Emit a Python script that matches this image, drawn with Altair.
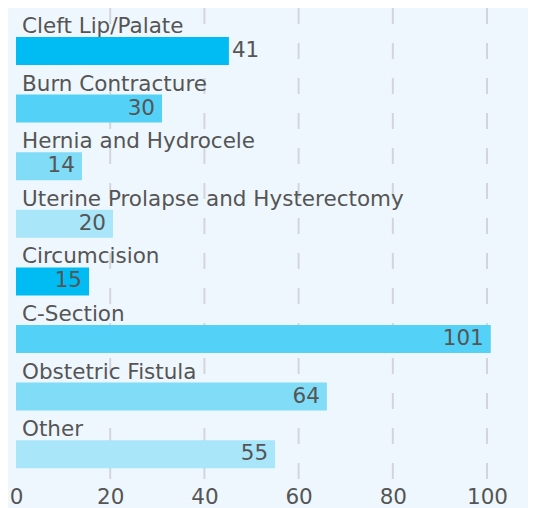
import altair as alt
import pandas as pd

categories = ["Cleft Lip/Palate", "Burn Contracture", "Hernia and Hydrocele",
              "Uterine Prolapse and Hysterectomy", "Circumcision", "C-Section",
              "Obstetric Fistula", "Other"]
bar_values = [45.2, 31.0, 14.0, 20.6, 15.5, 100.8, 66.0, 55.0]
labels = ["41", "30", "14", "20", "15", "101", "64", "55"]
label_inside = [False, True, True, True, True, True, True, True]
colors = ["#00bcf2", "#54d1f6", "#80dcf7", "#a9e6f9",
          "#00bcf2", "#54d1f6", "#80dcf7", "#a9e6f9"]
grid_values = [20, 40, 60, 80, 100]
tick_values = [0, 20, 40, 60, 80, 100]

df = pd.DataFrame({"cat": categories, "value": bar_values,
                   "label": labels, "inside": label_inside})
grid_df = pd.DataFrame({"g": grid_values})

FONT = "DejaVu Sans"
FS = 21.5
TXT = "#555555"
W, H = 512, 461

xscale = alt.Scale(domain=[0, 108.7], nice=False, zero=True)
yscale = alt.Scale(domain=categories, range=[29, 460.2], paddingInner=0.514, paddingOuter=0)
xaxis = alt.Axis(values=tick_values, grid=False, domain=False, ticks=False,
                 labelFont=FONT, labelFontSize=FS, labelColor=TXT,
                 labelPadding=17, title=None, labelFlush=False)

grid = alt.Chart(grid_df).mark_rule(color="#d2d6da", strokeWidth=2, strokeDash=[16, 19]).encode(
    x=alt.X("g:Q", scale=xscale, axis=xaxis),
    y=alt.value(0),
    y2=alt.value(H + 12),
)

bars = alt.Chart(df).mark_bar().encode(
    x=alt.X("value:Q", scale=xscale, axis=xaxis),
    y=alt.Y("cat:N", scale=yscale, sort=None, axis=None),
    color=alt.Color("cat:N", scale=alt.Scale(domain=categories, range=colors), legend=None),
)

cat_text = alt.Chart(df).mark_text(align="left", baseline="alphabetic", dx=6, dy=-18,
                                   font=FONT, fontSize=FS, color=TXT).encode(
    x=alt.value(0),
    y=alt.Y("cat:N", scale=yscale, sort=None, axis=None),
    text="cat:N",
)

val_in = alt.Chart(df).transform_filter("datum.inside").mark_text(
    align="right", baseline="middle", dx=-7, font=FONT, fontSize=FS, color=TXT).encode(
    x=alt.X("value:Q", scale=xscale, axis=xaxis),
    y=alt.Y("cat:N", scale=yscale, sort=None, axis=None),
    text="label:N",
)

val_out = alt.Chart(df).transform_filter("!datum.inside").mark_text(
    align="left", baseline="middle", dx=3, font=FONT, fontSize=FS, color=TXT).encode(
    x=alt.X("value:Q", scale=xscale, axis=xaxis),
    y=alt.Y("cat:N", scale=yscale, sort=None, axis=None),
    text="label:N",
)

chart = alt.layer(grid, bars, cat_text, val_in, val_out).properties(
    width=W, height=H,
    autosize=alt.AutoSizeParams(type="none"),
    padding={"left": 8, "top": 0, "right": 0, "bottom": 39},
    background="#eff7fe",
).configure_view(stroke=None)

chart.save("out.html", embed_options={"renderer": "svg", "actions": False})
